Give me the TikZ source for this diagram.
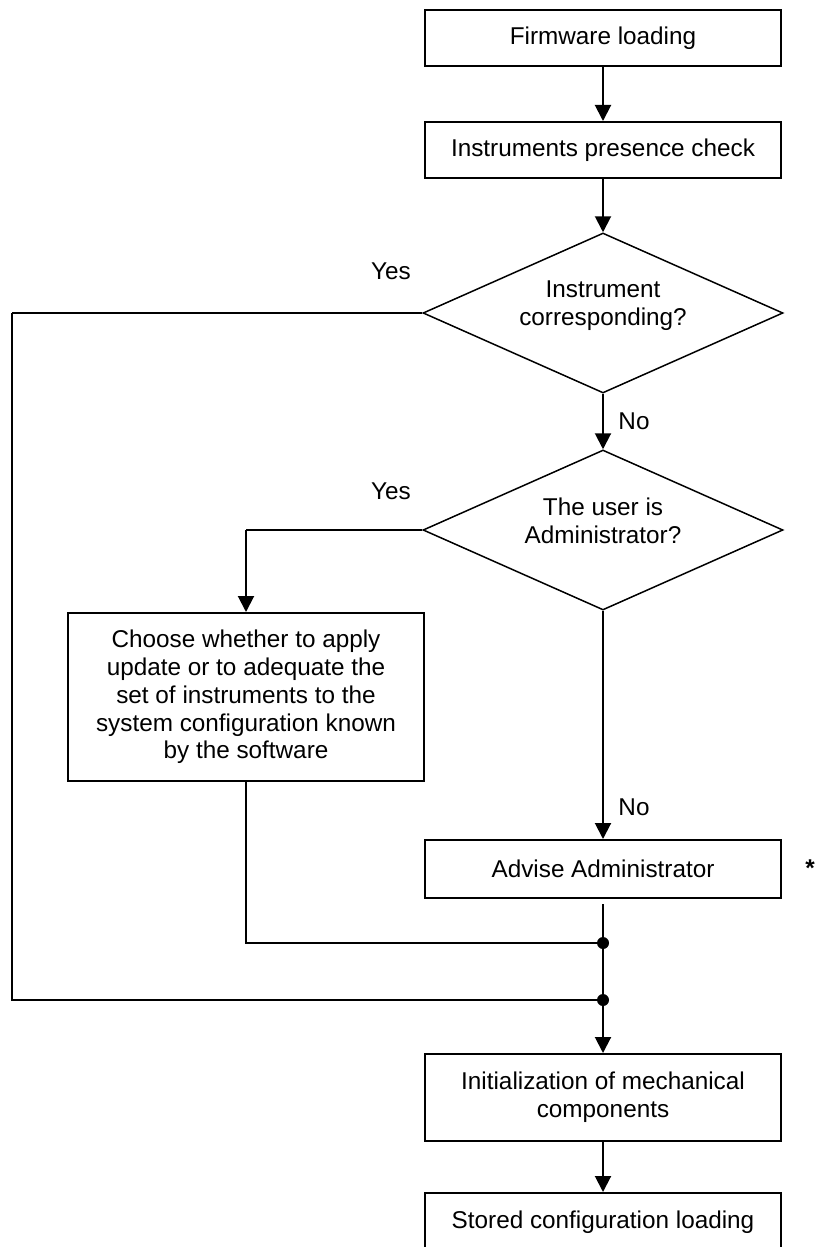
\documentclass[tikz,border=0pt]{standalone}
\usepackage{fontspec}
\setmainfont{Liberation Sans}
\usetikzlibrary{arrows.meta,shapes.geometric}

\begin{document}
\begin{tikzpicture}[
  x=0.5pt, y=-0.5pt,
  font=\fontsize{12.15}{13.9}\selectfont,
  box/.style={draw, line width=1pt, rectangle, inner sep=0pt,
              minimum width=178pt, align=center},
  decision/.style={draw, line width=0.75pt, diamond, inner sep=0pt,
                   minimum width=180pt, minimum height=80pt},
  qtext/.style={align=center, inner sep=0pt},
  lbl/.style={inner sep=0pt},
  flow/.style={line width=1pt, -{Triangle[width=8pt,length=8pt]}},
  link/.style={line width=1pt},
  thinlink/.style={line width=0.75pt},
  junct/.style={circle, fill=black, inner sep=0pt, minimum size=6pt}
]
\useasboundingbox (0,0) rectangle (816,1247);
\clip (0,0) rectangle (816,1247);

% main column
\node[box, minimum height=28pt] (fw)  at (603,38)  {Firmware loading};
\node[box, minimum height=28pt] (ipc) at (603,150) {Instruments presence check};

\node[decision] (d1) at (603,313) {};
\node[qtext] (d1t) at (603,306) {Instrument\\corresponding?};

\node[decision] (d2) at (603,530) {};
\node[qtext] (d2t) at (603,521) {The user is\\Administrator?};

\node[box, minimum height=84pt] (choose) at (246,697)
  {Choose whether to apply\\update or to adequate the\\set of instruments to the\\system configuration known\\by the software};

\node[box, minimum height=29pt] (adv) at (603,869) {Advise Administrator};
\node[lbl, anchor=base] (star) at (810,876) {\textbf{*}};

\node[junct] (j1) at (603,943) {};
\node[junct] (j2) at (603,1000) {};

\node[box, minimum height=43.5pt] (init) at (603,1097.5)
  {Initialization of mechanical\\components};
\node[box, minimum height=29pt] (stored) at (603,1222) {Stored configuration loading};

% branch corners
\coordinate (cyes) at (246,530);
\coordinate (ltop) at (12,313);
\coordinate (lbot) at (12,1000);
\coordinate (cdown) at (246,943);

% labels
\node[lbl] (yes1) at (391,271) {Yes};
\node[lbl] (yes2) at (391,491) {Yes};
\node[lbl] (no1)  at (634,421) {No};
\node[lbl] (no2)  at (634,807) {No};

% connectors
\draw[flow] (fw.south) -- (ipc.north);
\draw[flow] (ipc.south) -- (d1.north);
\draw[flow] (d1.south) -- (d2.north);
\draw[thinlink] (d2.west) -- (cyes);
\draw[flow] (cyes) -- (choose.north);
\draw[flow] (d2.south) -- (adv.north);
\draw[link, shorten <=2.5pt] (adv.south) -- (j2.center);
\draw[link] (choose.south) -- (cdown) -- (j1.center);
\draw[thinlink] (d1.west) -- (ltop);
\draw[link] (ltop) -- (lbot) -- (j2.center);
\draw[flow] (j2.center) -- (init.north);
\draw[flow] (init.south) -- (stored.north);
\end{tikzpicture}
\end{document}
